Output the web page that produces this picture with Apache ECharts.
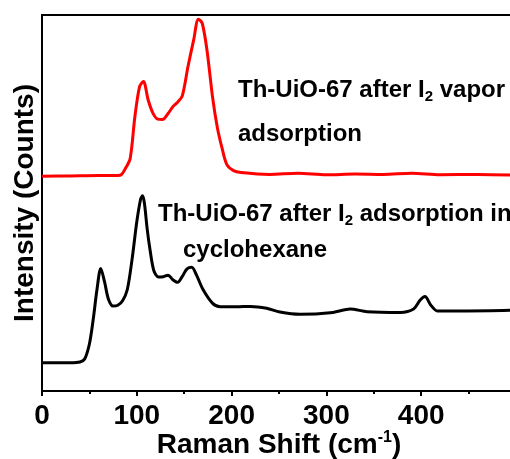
<!DOCTYPE html>
<html>
<head>
<meta charset="utf-8">
<script src="https://cdn.jsdelivr.net/npm/echarts@6/dist/echarts.min.js"></script>
<style>
html,body{margin:0;padding:0;background:#fff;}
#chart{width:510px;height:459px;}
</style>
</head>
<body>
<div id="chart"></div>
<script>
// Raman shift (cm-1) and relative intensity (arbitrary, offset)
const xTicks = [0, 100, 200, 300, 400];
const vaporShift = [0, 30, 60, 80, 84, 88, 93, 98, 103, 107, 112, 117, 122, 127, 133, 138, 143, 148, 154, 160, 165, 169, 174, 180, 185, 190, 195, 202, 210, 240, 270, 300, 330, 360, 390, 420, 460, 500];
const vaporIntensity = [57.1, 57.2, 57.3, 57.3, 57.6, 59.2, 61.8, 73, 81, 82.3, 77.4, 73.9, 72.3, 72.2, 73.8, 75.6, 76.8, 78.5, 86.3, 93.4, 98.9, 97.8, 90.7, 78, 70, 64.5, 60.2, 58.6, 58.1, 57.6, 57.9, 57.5, 57.7, 57.6, 57.9, 57.5, 57.6, 57.4];
const cycloShift = [0, 30, 40, 45, 50, 54, 58, 62, 66, 70, 75, 80, 85, 90, 95, 100, 104, 106, 108, 111, 114, 118, 123, 128, 133, 138, 143, 148, 153, 158, 163, 170, 180, 188, 205, 220, 237, 251, 272, 307, 325, 343, 378, 392, 399, 404, 410, 417, 449, 500];
const cycloIntensity = [7.5, 7.5, 7.7, 8.5, 12.5, 19, 27, 32.6, 29, 24.5, 22.6, 22.8, 24, 27, 35, 45, 51, 51.9, 50, 43, 37.5, 32, 30.3, 30.4, 30.8, 29.6, 28.9, 30.5, 32.5, 32.9, 30.8, 26.9, 23.3, 22.4, 22.4, 22.5, 22, 21, 20.4, 20.9, 21.8, 21.1, 20.9, 21.8, 24.2, 25.1, 22.9, 21.3, 21.3, 21.5];
const vaporLabel = ['Th-UiO-67 after I', '2', ' vapor', 'adsorption'];
const cycloLabel = ['Th-UiO-67 after I', '2', ' adsorption in', 'cyclohexane'];

const pairs = (xs, ys) => xs.map((x, i) => [x, ys[i]]);
const FONT = 'Liberation Sans, Arial, sans-serif';

const chart = echarts.init(document.getElementById('chart'), null, {renderer: 'canvas'});

function labelText(parts, x, y) {
  return {
    type: 'text', x: x, y: y, z: 100,
    style: {
      text: '{m|' + parts[0] + '}{s|' + parts[1] + '}{m|' + parts[2] + '}',
      verticalAlign: 'middle',
      rich: {
        m: {fontFamily: FONT, fontWeight: 'bold', fontSize: 24, lineHeight: 28, fill: '#000'},
        s: {fontFamily: FONT, fontWeight: 'bold', fontSize: 15, lineHeight: 15, verticalAlign: 'bottom', fill: '#000'}
      }
    }
  };
}
function plainText(t, x, y) {
  return {
    type: 'text', x: x, y: y, z: 100,
    style: {text: t, fontFamily: FONT, fontWeight: 'bold', fontSize: 24, fill: '#000', verticalAlign: 'middle'}
  };
}

chart.setOption({
  animation: false,
  backgroundColor: '#fff',
  grid: {left: 42, right: -6, top: 15, bottom: 68, show: true, borderColor: '#000', borderWidth: 2,
         containLabel: false, outerBoundsMode: 'none'},
  xAxis: {
    type: 'value', min: 0, max: 500, interval: 100,
    axisLine: {show: true, lineStyle: {color: '#000', width: 2}},
    axisTick: {show: true, inside: false, length: 5, lineStyle: {color: '#000', width: 2}},
    minorTick: {show: true, splitNumber: 2, length: 3, lineStyle: {color: '#000', width: 2}},
    splitLine: {show: false},
    axisLabel: {
      color: '#000', fontFamily: FONT, fontWeight: 'bold', fontSize: 28, margin: 11,
      showMaxLabel: false,
      formatter: v => (xTicks.indexOf(v) >= 0 ? String(v) : '')
    },
    name: '{m|Raman Shift (cm}{sup|-1}{m|)}',
    nameLocation: 'middle', nameGap: 39, nameMoveOverlap: false,
    nameTextStyle: {
      rich: {
        m: {fontFamily: FONT, fontWeight: 'bold', fontSize: 28, lineHeight: 30, color: '#000'},
        sup: {fontFamily: FONT, fontWeight: 'bold', fontSize: 16, lineHeight: 16, verticalAlign: 'top', color: '#000'}
      }
    }
  },
  yAxis: {
    type: 'value', min: 0, max: 100,
    axisLine: {show: true, lineStyle: {color: '#000', width: 2}},
    axisTick: {show: false},
    axisLabel: {show: false},
    splitLine: {show: false},
    name: 'Intensity (Counts)',
    nameLocation: 'middle', nameGap: 3, nameMoveOverlap: false,
    nameTextStyle: {fontFamily: FONT, fontWeight: 'bold', fontSize: 28, color: '#000'}
  },
  series: [
    {
      type: 'line', name: 'vapor', data: pairs(vaporShift, vaporIntensity),
      showSymbol: false, smooth: 0.3,
      lineStyle: {color: '#ff0000', width: 3}, z: 3
    },
    {
      type: 'line', name: 'cyclohexane', data: pairs(cycloShift, cycloIntensity),
      showSymbol: false, smooth: 0.3,
      lineStyle: {color: '#000', width: 3}, z: 2
    }
  ],
  graphic: [
    labelText(vaporLabel, 238, 90.5),
    plainText(vaporLabel[3], 238, 134.5),
    labelText(cycloLabel, 158, 214.5),
    plainText(cycloLabel[3], 183, 250.5)
  ]
});
</script>
</body>
</html>
